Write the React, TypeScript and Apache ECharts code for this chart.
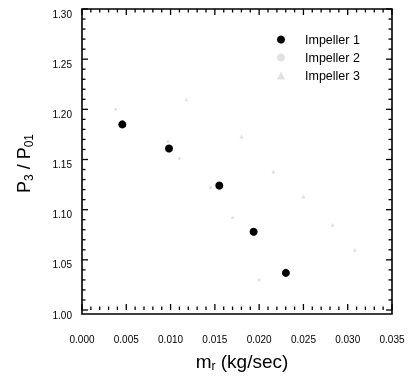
import React, { useEffect, useRef } from "react";
import * as echarts from "echarts";

const impeller1X = [0.00455, 0.00982, 0.0155, 0.01938, 0.02302];
const impeller1Y = [1.185, 1.161, 1.124, 1.078, 1.037];
const impeller2X = [0.0038, 0.0097, 0.011, 0.0145, 0.017, 0.02];
const impeller2Y = [1.2, 1.168, 1.151, 1.122, 1.092, 1.03];
const impeller3X = [0.0118, 0.018, 0.0216, 0.025, 0.0283, 0.0308];
const impeller3Y = [1.21, 1.173, 1.138, 1.113, 1.085, 1.06];

const seriesNames = ["Impeller 1", "Impeller 2", "Impeller 3"];

const X_MIN = 0;
const X_MAX = 0.035;
const X_STEP = 0.005;
const Y_MIN = 1.0;
const Y_MAX = 1.3;
const Y_STEP = 0.05;
const MINOR_SPLIT = 5;

const FONT = "Liberation Sans, Arial, sans-serif";

const GRID = { left: 82, right: 19, top: 9, bottom: 63 };
const W = 411;
const H = 377;

function zip(xs: number[], ys: number[]) {
  return xs.map((x, i) => [x, ys[i]]);
}

// tick positions for the frame decoration (axis ticks), [value, isMajor]
function tickList(min: number, max: number, step: number) {
  const out: number[][] = [];
  const n = Math.round((max - min) / step) * MINOR_SPLIT;
  for (let i = 0; i <= n; i++) {
    out.push([min + (i * step) / MINOR_SPLIT, i % MINOR_SPLIT === 0 ? 1 : 0]);
  }
  return out;
}

function richName(main: number, sub: number, lh: number) {
  return {
    main: { fontSize: main, lineHeight: lh, fontFamily: FONT, color: "#000", verticalAlign: "middle" },
    sub: { fontSize: sub, lineHeight: sub, fontFamily: FONT, color: "#000", verticalAlign: "bottom" },
  };
}

const hidden = {
  axisLine: { show: false },
  axisTick: { show: false },
  splitLine: { show: false },
};

export default function App() {
  const ref = useRef<HTMLDivElement>(null);
  useEffect(() => {
    if (!ref.current) return;
    const chart = echarts.init(ref.current, undefined, { renderer: "svg" });
    const xt = tickList(X_MIN, X_MAX, X_STEP);
    const yt = tickList(Y_MIN, Y_MAX, Y_STEP);
    const TW = 1.3;
    const tickRect = (x: number, y: number, w: number, h: number) => ({
      type: "rect",
      shape: { x, y, width: w, height: h },
      style: { fill: "#000" },
    });
    chart.setOption({
      animation: false,
      grid: GRID,
      graphic: [
        {
          type: "rect",
          shape: {
            x: GRID.left,
            y: GRID.top,
            width: W - GRID.left - GRID.right,
            height: H - GRID.top - GRID.bottom,
          },
          style: { fill: "none", stroke: "#000", lineWidth: 1.6 },
          silent: true,
        },
      ],
      legend: {
        orient: "vertical",
        left: 272,
        top: 28,
        itemWidth: 8,
        itemHeight: 8,
        itemGap: 5,
        data: seriesNames,
        textStyle: { fontSize: 12.5, fontFamily: FONT, color: "#000", lineHeight: 12, padding: [0, 0, 0, 15] },
      },
      xAxis: {
        type: "value",
        min: X_MIN,
        max: X_MAX,
        interval: X_STEP,
        ...hidden,
        axisLabel: {
          margin: 24,
          fontSize: 10,
          fontFamily: FONT,
          color: "#000",
          formatter: (v: number) => v.toFixed(3),
        },
        name: "{main|m}{sub|r}{main| (kg/sec)}",
        nameLocation: "middle",
        nameGap: 40,
        nameTextStyle: { rich: richName(19, 12, 22), padding: [0, 0, 0, 10] },
      },
      yAxis: {
        type: "value",
        min: Y_MIN,
        max: Y_MAX,
        interval: Y_STEP,
        ...hidden,
        axisLabel: {
          margin: 10,
          fontSize: 10,
          lineHeight: 10,
          fontFamily: FONT,
          color: "#000",
          verticalAlign: "top",
          formatter: (v: number) => v.toFixed(2),
        },
        name: "{main|P}{sub|3}{main| / P}{sub|01}",
        nameLocation: "middle",
        nameRotate: 90,
        nameGap: 47,
        nameTextStyle: { rich: richName(18, 12, 22), padding: [0, 8, 0, 0] },
      },
      series: [
        {
          type: "custom",
          silent: true,
          data: xt,
          renderItem: (_p: any, api: any) => {
            const v = api.value(0);
            const len = api.value(1) ? 6 : 3.5;
            const b = api.coord([v, Y_MIN]);
            const t = api.coord([v, Y_MAX]);
            return {
              type: "group",
              children: [
                tickRect(b[0] - TW / 2, b[1] - len, TW, len),
                tickRect(t[0] - TW / 2, t[1], TW, len),
              ],
            };
          },
        },
        {
          type: "custom",
          silent: true,
          data: yt.map((d) => [X_MIN, d[0], d[1]]),
          renderItem: (_p: any, api: any) => {
            const v = api.value(1);
            const len = api.value(2) ? 6 : 3.5;
            const l = api.coord([X_MIN, v]);
            const r = api.coord([X_MAX, v]);
            return {
              type: "group",
              children: [
                tickRect(l[0], l[1] - TW / 2, len, TW),
                tickRect(r[0] - len, r[1] - TW / 2, len, TW),
              ],
            };
          },
        },
        {
          name: seriesNames[0],
          type: "scatter",
          symbol: "circle",
          symbolSize: 8,
          itemStyle: { color: "#000", opacity: 1 },
          data: zip(impeller1X, impeller1Y),
        },
        {
          name: seriesNames[1],
          type: "scatter",
          symbol: "circle",
          symbolSize: 3,
          itemStyle: { color: "#e2e2e2", opacity: 1 },
          data: zip(impeller2X, impeller2Y),
        },
        {
          name: seriesNames[2],
          type: "scatter",
          symbol: "triangle",
          symbolSize: 4,
          itemStyle: { color: "#e2e2e2", opacity: 1 },
          data: zip(impeller3X, impeller3Y),
        },
      ],
    });
    return () => chart.dispose();
  }, []);
  return <div ref={ref} style={{ position: "fixed", left: 0, top: 0, width: W, height: H }} />;
}
